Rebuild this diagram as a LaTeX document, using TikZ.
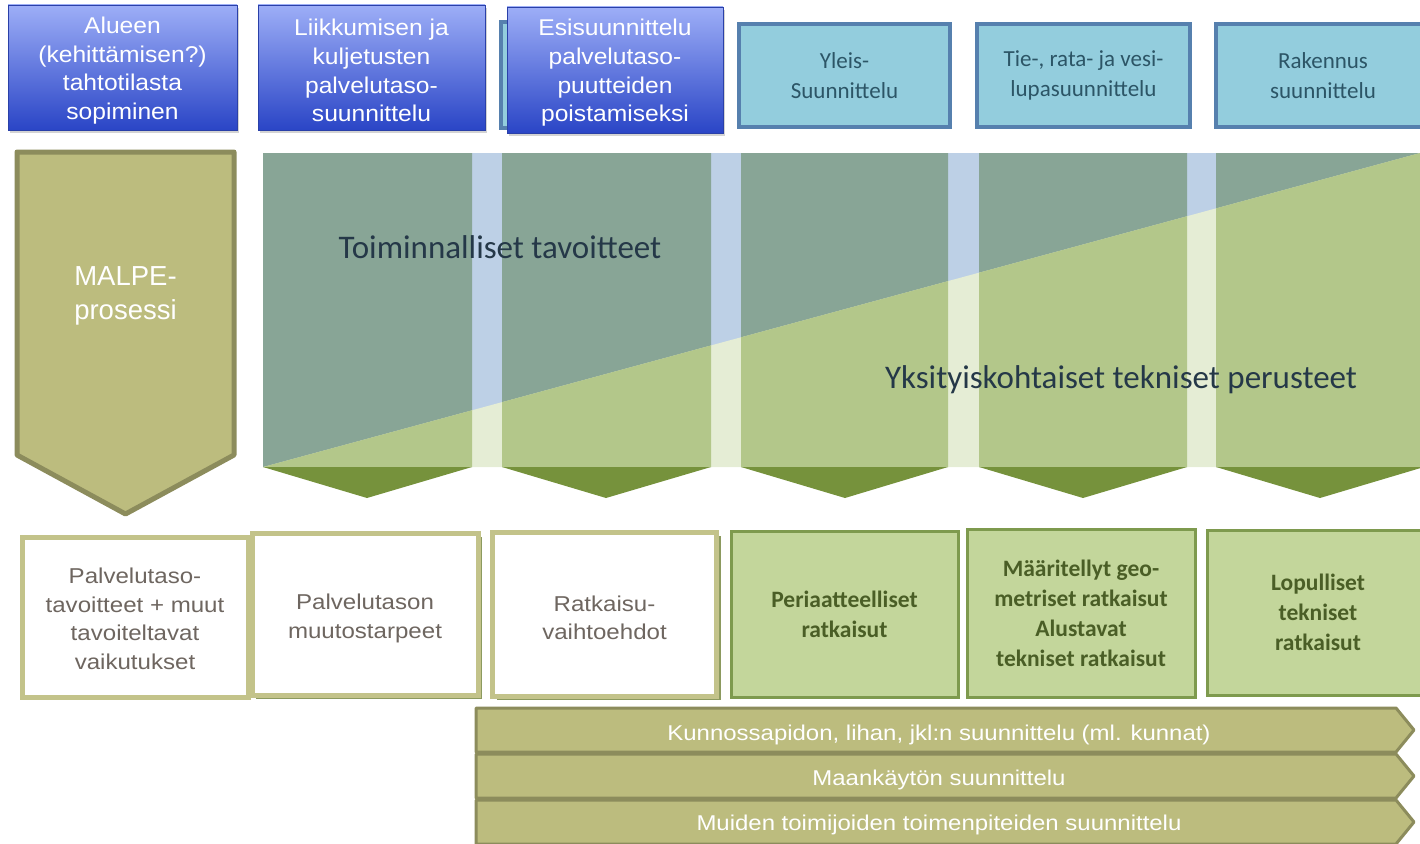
\documentclass[tikz,border=0pt]{standalone}
\usepackage{fontspec}
\setmainfont{Liberation Sans}
\newfontfamily\widefont[FakeStretch=1.08]{Liberation Sans}
\newfontfamily\wideerfont[FakeStretch=1.12]{Liberation Sans}
\newfontfamily\calfont{Carlito}
\usetikzlibrary{shadows}
\definecolor{bluetop}{HTML}{9DAEF7}
\definecolor{bluebot}{HTML}{2A45C6}
\definecolor{blueborder}{HTML}{2A40A8}
\definecolor{lbfill}{HTML}{93CDDD}
\definecolor{lbborder}{HTML}{5680AE}
\definecolor{lbtext}{HTML}{2C5566}
\definecolor{banddark}{HTML}{88A596}
\definecolor{bandlight}{HTML}{B3C78A}
\definecolor{stripetop}{HTML}{BDD0E6}
\definecolor{stripebot}{HTML}{E5EDD5}
\definecolor{chev}{HTML}{76923C}
\definecolor{bandtext}{HTML}{253848}
\definecolor{khaki}{HTML}{BCBC7E}
\definecolor{khakiborder}{HTML}{8C8C5C}
\definecolor{wbborder}{HTML}{C3C38A}
\definecolor{wbshadow}{HTML}{7F8F4E}
\definecolor{wbtext}{HTML}{6E6660}
\definecolor{gbfill}{HTML}{C3D69B}
\definecolor{gbborder}{HTML}{7E9A4E}
\definecolor{gbtext}{HTML}{4A5E26}
\tikzset{
  topblue/.style={draw=blueborder, line width=0.8pt, top color=bluetop, bottom color=bluebot,
    inner sep=0pt, drop shadow={opacity=0.35, shadow xshift=2pt, shadow yshift=-3pt}},
  toptext/.style={text=white, font=\widefont\fontsize{22.8}{28.7}\selectfont, align=center, inner sep=0pt},
  lightbox/.style={draw=lbborder, line width=3.5pt, fill=lbfill, text=lbtext,
    font=\calfont\fontsize{23}{30}\selectfont, align=center, inner sep=0pt},
  whitebox/.style={draw=wbborder, line width=5pt, fill=white, inner sep=0pt},
  shadowbox/.style={whitebox, drop shadow={fill=wbshadow, opacity=0.9, shadow xshift=4pt, shadow yshift=-4pt}},
  whitetext/.style={text=wbtext, font=\wideerfont\fontsize{21.5}{28.5}\selectfont, align=center, inner sep=0pt},
  greenbox/.style={draw=gbborder, line width=3pt, fill=gbfill, text=gbtext,
    font=\calfont\bfseries\fontsize{23.5}{30}\selectfont, align=center, inner sep=0pt},
  bar/.style={fill=khaki, draw=khakiborder, line width=3pt, line join=round},
  bartext/.style={text=white, font=\wideerfont\fontsize{21.4}{25}\selectfont, inner sep=0pt},
  bandlabel/.style={text=bandtext, font=\calfont\fontsize{33}{38}\selectfont, inner sep=0pt}
}
\begin{document}
\begin{tikzpicture}[x=1pt,y=-1pt]
\useasboundingbox (0,0) rectangle (1420,843);
\begin{scope}
\clip (0,0) rectangle (1420,843);

% hidden box behind box 3
\node[lightbox, minimum width=220pt, minimum height=106pt] (hid) at (611,75) {};

% top blue boxes
\node[topblue, minimum width=229pt, minimum height=125pt] (t1) at (122.5,67.5) {};
\node[toptext] (t1t) at (122.5,70.5) {Alueen\\(kehittämisen?)\\tahtotilasta\\sopiminen};
\node[topblue, minimum width=227pt, minimum height=125pt] (t2) at (371.5,67.5) {};
\node[toptext] (t2t) at (371.5,70.5) {Liikkumisen ja\\kuljetusten\\palvelutaso-\\suunnittelu};
\node[topblue, minimum width=216pt, minimum height=126pt] (t3) at (615,70) {};
\node[toptext] (t3t) at (615,73) {Esisuunnittelu\\palvelutaso-\\puutteiden\\poistamiseksi};

% light blue boxes
\node[lightbox, minimum width=211pt, minimum height=103pt] (t4) at (844.5,75.5) {Yleis-\\Suunnittelu};
\node[lightbox, minimum width=213pt, minimum height=103pt] (t5) at (1083.5,75.5) {Tie-, rata- ja vesi-\\lupasuunnittelu};
\node[lightbox, minimum width=214pt, minimum height=103pt, text width=214pt] (t6) at (1323,75.5) {Rakennus\\suunnittelu};

% MALPE arrow
\draw[fill=khaki, draw=khakiborder, line width=5pt, line join=round]
  (17,152) -- (234,152) -- (234,455) -- (125.5,514) -- (17,455) -- cycle;
\node[text=white, font=\fontsize{27.5}{34}\selectfont, align=left, inner sep=0pt] (malpe) at (125.5,296) {MALPE-\\prosessi};

% band background (stripes)
\fill[stripetop] (263,153) rectangle (1420,467);
\fill[stripebot] (263,467) -- (1420,153) -- (1420,467) -- cycle;
\foreach \xa/\xb/\xm in {263/472/367, 502/711/606, 741/948/845, 979/1187/1083, 1216/1424/1320} {
  \begin{scope}
    \clip (\xa,153) rectangle (\xb,467);
    \fill[banddark] (263,153) -- (1420,153) -- (263,467) -- cycle;
    \fill[bandlight] (263,467) -- (1420,153) -- (1430,153) -- (1430,467) -- cycle;
  \end{scope}
  \fill[chev] (\xa,467) -- (\xb,467) -- (\xm,498) -- cycle;
}
\node[bandlabel] (toim) at (500,247) {Toiminnalliset tavoitteet};
\node[bandlabel] (yksi) at (1121,380) {Yksityiskohtaiset tekniset perusteet};

% bottom boxes
\node[whitebox, minimum width=226pt, minimum height=160pt] (b1) at (135,617) {};
\node[whitetext] (b1t) at (135,619) {Palvelutaso-\\tavoitteet + muut\\tavoiteltavat\\vaikutukset};
\node[shadowbox, minimum width=226pt, minimum height=162pt] (b2) at (365,614) {};
\node[whitetext] (b2t) at (365,618.5) {Palvelutason\\muutostarpeet};
\node[shadowbox, minimum width=224pt, minimum height=164pt] (b3) at (604.5,614) {};
\node[whitetext] (b3t) at (604.5,618) {Ratkaisu-\\vaihtoehdot};
\node[greenbox, minimum width=227pt, minimum height=166pt] (b4) at (844.5,614)
  {Periaatteelliset\\ratkaisut};
\node[greenbox, minimum width=228pt, minimum height=168pt] (b5) at (1081,613)
  {Määritellyt geo-\\metriset ratkaisut\\Alustavat\\tekniset ratkaisut};
\node[greenbox, minimum width=222pt, minimum height=165pt] (b6) at (1318,612.5)
  {Lopulliset\\tekniset\\ratkaisut};

% bottom bars
\draw[bar] (476,708) -- (1396,708) -- (1414,730) -- (1396,752) -- (476,752) -- cycle;
\draw[bar] (476,754) -- (1396,754) -- (1414,776) -- (1396,798) -- (476,798) -- cycle;
\draw[bar] (476,800) -- (1396,800) -- (1414,822) -- (1396,844) -- (476,844) -- cycle;
\node[bartext] (r1) at (939,735) {Kunnossapidon, lihan, jkl:n suunnittelu (ml. kunnat)};
\node[bartext] (r2) at (939,780) {Maankäytön suunnittelu};
\node[bartext] (r3) at (939,825) {Muiden toimijoiden toimenpiteiden suunnittelu};
\end{scope}
\end{tikzpicture}
\end{document}
